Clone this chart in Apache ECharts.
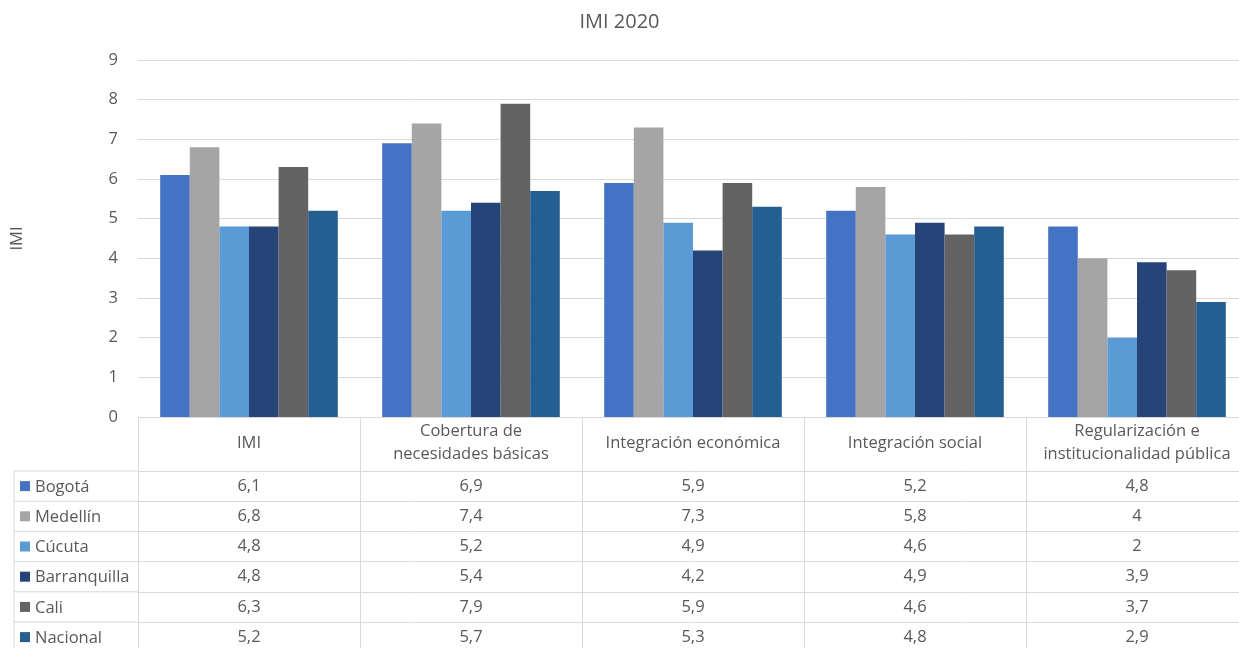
<!DOCTYPE html>
<html>
<head>
<meta charset="utf-8">
<script src="https://cdn.jsdelivr.net/npm/echarts@6/dist/echarts.min.js"></script>
<style>
  html, body { margin: 0; padding: 0; background: #fff; }
  #chart { width: 1239px; height: 648px; }
</style>
</head>
<body>
<div id="chart"></div>
<script>
const categories = ['IMI', 'Cobertura de\nnecesidades básicas', 'Integración económica', 'Integración social', 'Regularización e\ninstitucionalidad pública'];
const seriesNames = ['Bogotá', 'Medellín', 'Cúcuta', 'Barranquilla', 'Cali', 'Nacional'];
const seriesColors = ['#4472C4', '#A5A5A5', '#5B9BD5', '#264478', '#636363', '#255E91'];
const bogota = [6.1, 6.9, 5.9, 5.2, 4.8];
const medellin = [6.8, 7.4, 7.3, 5.8, 4];
const cucuta = [4.8, 5.2, 4.9, 4.6, 2];
const barranquilla = [4.8, 5.4, 4.2, 4.9, 3.9];
const cali = [6.3, 7.9, 5.9, 4.6, 3.7];
const nacional = [5.2, 5.7, 5.3, 4.8, 2.9];
const seriesValues = [bogota, medellin, cucuta, barranquilla, cali, nacional];
const yMin = 0, yMax = 9, yStep = 1;

const font = 'Open Sans';
const fs = 16.5;
const textColor = '#595959';
const lineColor = '#d9d9d9';

// table layout (below the plot)
const plotLeft = 138, plotTop = 60, plotBottom = 417, plotWidth = 1110;
const headerH = 54, rowH = 30.2, tableLeft = 14;

const fmt = v => String(v).replace('.', ',');

const chart = echarts.init(document.getElementById('chart'));

const xAxes = [{
    type: 'category',
    data: categories,
    position: 'bottom',
    axisLine: { show: true, lineStyle: { color: lineColor } },
    axisTick: { show: true, length: 648 - plotBottom, lineStyle: { color: lineColor } },
    axisLabel: {
        interval: 0, margin: 26, verticalAlign: 'middle',
        color: textColor, fontFamily: font, fontSize: fs, lineHeight: 23
    }
}];
seriesValues.forEach((vals, i) => {
    xAxes.push({
        type: 'category',
        data: categories,
        position: 'bottom',
        offset: headerH + rowH * i,
        axisLine: { show: true, lineStyle: { color: lineColor } },
        axisTick: { show: false },
        axisLabel: {
            interval: 0, margin: 15, verticalAlign: 'middle',
            color: textColor, fontFamily: font, fontSize: fs,
            formatter: (v, idx) => fmt(vals[idx])
        }
    });
});

// legend column of the data table
const graphic = [{
    type: 'line', silent: true,
    shape: { x1: tableLeft, y1: plotBottom + headerH, x2: tableLeft, y2: 648 },
    style: { stroke: lineColor, lineWidth: 1 }
}];
seriesNames.forEach((name, i) => {
    const top = plotBottom + headerH + rowH * i;
    graphic.push({
        type: 'line', silent: true,
        shape: { x1: tableLeft, y1: top, x2: plotLeft, y2: top },
        style: { stroke: lineColor, lineWidth: 1 }
    });
    graphic.push({
        type: 'rect', silent: true,
        shape: { x: 20, y: top + rowH / 2 - 5, width: 10, height: 10 },
        style: { fill: seriesColors[i] }
    });
    graphic.push({
        type: 'text', silent: true,
        x: 35, y: top + rowH / 2 + 1,
        style: { text: name, fill: textColor, font: fs + 'px "' + font + '"', verticalAlign: 'middle' }
    });
});

const option = {
    title: {
        text: 'IMI 2020',
        left: 'center',
        top: 7,
        textStyle: { color: textColor, fontFamily: font, fontSize: 20, fontWeight: 'normal' }
    },
    grid: {
        left: plotLeft, width: plotWidth, top: plotTop, bottom: 648 - plotBottom,
        containLabel: false, outerBoundsMode: 'none'
    },
    xAxis: xAxes,
    yAxis: {
        type: 'value',
        min: yMin, max: yMax, interval: yStep,
        name: 'IMI',
        nameLocation: 'middle',
        nameGap: 112,
        nameRotate: 90,
        nameTextStyle: { color: textColor, fontFamily: font, fontSize: fs },
        axisLine: { show: false },
        axisTick: { show: false },
        axisLabel: { color: textColor, fontFamily: font, fontSize: fs, margin: 20 },
        splitLine: { lineStyle: { color: lineColor } }
    },
    series: seriesNames.map((name, i) => ({
        name: name,
        type: 'bar',
        data: seriesValues[i],
        barGap: 0,
        barCategoryGap: '20%',
        itemStyle: { color: seriesColors[i] }
    })),
    graphic: graphic
};

chart.setOption(option);
</script>
</body>
</html>
